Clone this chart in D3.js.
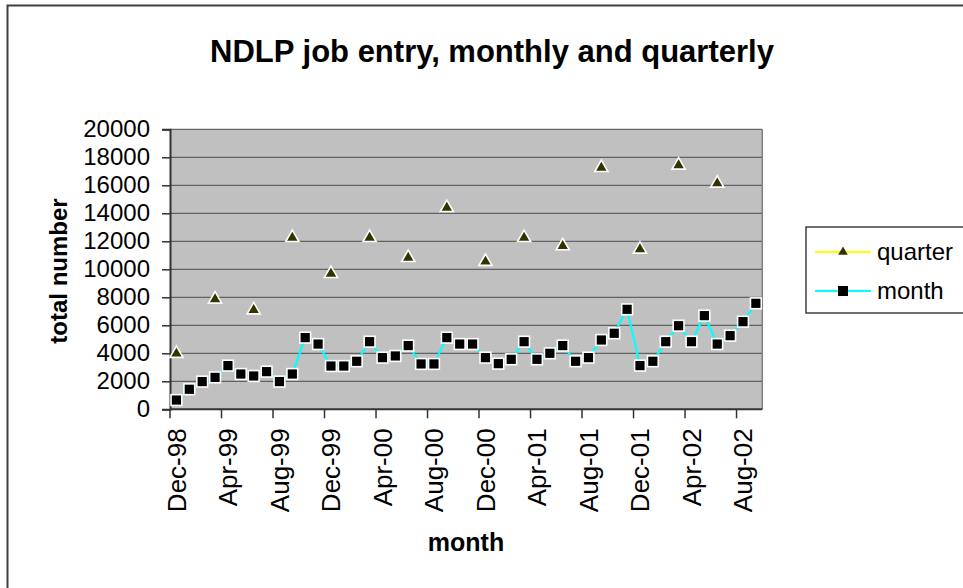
<!DOCTYPE html>
<html>
<head>
<meta charset="utf-8">
<script src="https://cdn.jsdelivr.net/npm/d3@7"></script>
<style>
  html, body { margin: 0; padding: 0; background: #fff; }
  svg { display: block; }
  text { font-family: "Liberation Sans", Arial, sans-serif; fill: #000; }
</style>
</head>
<body>
<svg id="chart" width="963" height="588"></svg>
<script>
// Category labels: one per month, Dec 1998 to Sep 2002
const months = [
  "Dec-98","Jan-99","Feb-99","Mar-99","Apr-99","May-99","Jun-99","Jul-99",
  "Aug-99","Sep-99","Oct-99","Nov-99","Dec-99","Jan-00","Feb-00","Mar-00",
  "Apr-00","May-00","Jun-00","Jul-00","Aug-00","Sep-00","Oct-00","Nov-00",
  "Dec-00","Jan-01","Feb-01","Mar-01","Apr-01","May-01","Jun-01","Jul-01",
  "Aug-01","Sep-01","Oct-01","Nov-01","Dec-01","Jan-02","Feb-02","Mar-02",
  "Apr-02","May-02","Jun-02","Jul-02","Aug-02","Sep-02"
];

// Monthly job entries
const monthValues = [
  660, 1430, 1980, 2280, 3120, 2520, 2380, 2690, 1980, 2520, 5120, 4660,
  3090, 3090, 3430, 4830, 3690, 3810, 4550, 3240, 3240, 5120, 4660, 4660,
  3690, 3260, 3570, 4830, 3570, 4000, 4550, 3430, 3690, 4950, 5430, 7140,
  3120, 3430, 4830, 5970, 4830, 6690, 4660, 5260, 6260, 7570
];

// Quarterly totals, recorded every third month (gaps elsewhere)
const quarterValues = [
  4050, null, null, 7930, null, null, 7160, null, null, 12330, null, null,
  9760, null, null, 12330, null, null, 10900, null, null, 14470, null, null,
  10620, null, null, 12330, null, null, 11740, null, null, 17330, null, null,
  11500, null, null, 17500, null, null, 16210, null, null, null
];

const yTicks = [0, 2000, 4000, 6000, 8000, 10000, 12000, 14000, 16000, 18000, 20000];
const xTickLabels = months.filter((d, i) => i % 4 === 0);

const svg = d3.select("#chart");
const plot = { left: 170, right: 762.3, top: 129.3, bottom: 409.3 };

const x = d3.scaleBand().domain(months).range([plot.left, plot.right]).padding(0);
const y = d3.scaleLinear().domain([0, 20000]).range([plot.bottom, plot.top]);
const cx = d => x(d) + x.bandwidth() / 2;

// Outer chart border
svg.append("rect")
  .attr("x", 7.5).attr("y", 5.5).attr("width", 970).attr("height", 600)
  .attr("fill", "#fff").attr("stroke", "#404040").attr("stroke-width", 2);

// Title
svg.append("text")
  .attr("x", 492).attr("y", 62)
  .attr("text-anchor", "middle")
  .style("font-size", "31px").style("font-weight", "bold")
  .text("NDLP job entry, monthly and quarterly");

// Plot area background
svg.append("rect")
  .attr("x", plot.left).attr("y", plot.top)
  .attr("width", plot.right - plot.left).attr("height", plot.bottom - plot.top)
  .attr("fill", "#c0c0c0");

// Horizontal gridlines
svg.append("g").selectAll("line")
  .data(yTicks.filter(v => v > 0))
  .join("line")
  .attr("x1", plot.left).attr("x2", plot.right)
  .attr("y1", d => y(d)).attr("y2", d => y(d))
  .attr("stroke", "#4a4a4a").attr("stroke-width", 1);

// Right edge of plot area
svg.append("line")
  .attr("x1", plot.right).attr("x2", plot.right)
  .attr("y1", plot.top).attr("y2", plot.bottom)
  .attr("stroke", "#808080").attr("stroke-width", 1.5);

// Y axis
const yAxis = svg.append("g")
  .attr("transform", `translate(${plot.left},0)`)
  .call(d3.axisLeft(y).tickValues(yTicks).tickSize(8).tickPadding(12).tickFormat(d3.format("d")));
yAxis.select(".domain").attr("stroke", "#333").attr("stroke-width", 2);
yAxis.selectAll(".tick line").attr("stroke", "#333").attr("stroke-width", 1.5);
yAxis.selectAll(".tick text")
  .style("font-size", "24px")
  .style("font-family", "'Liberation Sans', Arial, sans-serif")
  .attr("fill", "#000");

// X axis line and tick marks at category boundaries
svg.append("line")
  .attr("x1", plot.left).attr("x2", plot.right)
  .attr("y1", plot.bottom).attr("y2", plot.bottom)
  .attr("stroke", "#333").attr("stroke-width", 2);
svg.append("g").selectAll("line")
  .data(xTickLabels)
  .join("line")
  .attr("x1", d => x(d)).attr("x2", d => x(d))
  .attr("y1", plot.bottom).attr("y2", plot.bottom + 9)
  .attr("stroke", "#333").attr("stroke-width", 1.5);

// X tick labels, rotated
svg.append("g").selectAll("text")
  .data(xTickLabels)
  .join("text")
  .attr("transform", d => `translate(${cx(d)},${plot.bottom + 19}) rotate(-90)`)
  .attr("text-anchor", "end")
  .attr("dy", "0.35em")
  .style("font-size", "26px")
  .text(d => d);

// Axis titles
svg.append("text")
  .attr("transform", "translate(67,271) rotate(-90)")
  .attr("text-anchor", "middle")
  .style("font-size", "24px").style("font-weight", "bold")
  .text("total number");
svg.append("text")
  .attr("x", 466).attr("y", 551)
  .attr("text-anchor", "middle")
  .style("font-size", "25px").style("font-weight", "bold")
  .text("month");

// Monthly series line
const monthLine = d3.line()
  .x((d, i) => cx(months[i]))
  .y(d => y(d));
svg.append("path")
  .datum(monthValues)
  .attr("d", monthLine)
  .attr("fill", "none").attr("stroke", "#00ffff").attr("stroke-width", 2.2);

// Quarterly series line (only joins consecutive values, so gaps break it)
const quarterLine = d3.line()
  .defined(d => d !== null)
  .x((d, i) => cx(months[i]))
  .y(d => y(d));
svg.append("path")
  .datum(quarterValues)
  .attr("d", quarterLine)
  .attr("fill", "none").attr("stroke", "#ffff00").attr("stroke-width", 2);

const triangle = d3.symbol().type(d3.symbolTriangle);

// Quarterly markers
svg.append("g").selectAll("path")
  .data(quarterValues.map((v, i) => ({ v, m: months[i] })).filter(d => d.v !== null))
  .join("path")
  .attr("d", triangle.size(75)())
  .attr("transform", d => `translate(${cx(d.m)},${y(d.v) + 1})`)
  .attr("fill", "#333300").attr("stroke", "#fff").attr("stroke-width", 1.6);

// Monthly markers
svg.append("g").selectAll("rect")
  .data(monthValues.map((v, i) => ({ v, m: months[i] })))
  .join("rect")
  .attr("x", d => cx(d.m) - 5.4).attr("y", d => y(d.v) - 5.4)
  .attr("width", 10.8).attr("height", 10.8)
  .attr("fill", "#000").attr("stroke", "#fff").attr("stroke-width", 1.6);

// Legend
const legend = svg.append("g");
legend.append("rect")
  .attr("x", 806).attr("y", 227).attr("width", 200).attr("height", 86)
  .attr("fill", "#fff").attr("stroke", "#404040").attr("stroke-width", 1.5);

const legendItems = [
  { name: "quarter", color: "#ffff00", y: 252, shape: "tri" },
  { name: "month", color: "#00ffff", y: 291, shape: "sq" }
];
const li = legend.selectAll("g.item").data(legendItems).join("g").attr("class", "item");
li.append("line")
  .attr("x1", 815).attr("x2", 871)
  .attr("y1", d => d.y).attr("y2", d => d.y)
  .attr("stroke", d => d.color).attr("stroke-width", 2);
li.filter(d => d.shape === "tri").append("path")
  .attr("d", triangle.size(40)())
  .attr("transform", d => `translate(843,${d.y})`)
  .attr("fill", "#333300");
li.filter(d => d.shape === "sq").append("rect")
  .attr("x", 838).attr("y", d => d.y - 5).attr("width", 10).attr("height", 10)
  .attr("fill", "#000");
li.append("text")
  .attr("x", 877).attr("y", d => d.y).attr("dy", "0.35em")
  .style("font-size", "24px")
  .text(d => d.name);
</script>
</body>
</html>
